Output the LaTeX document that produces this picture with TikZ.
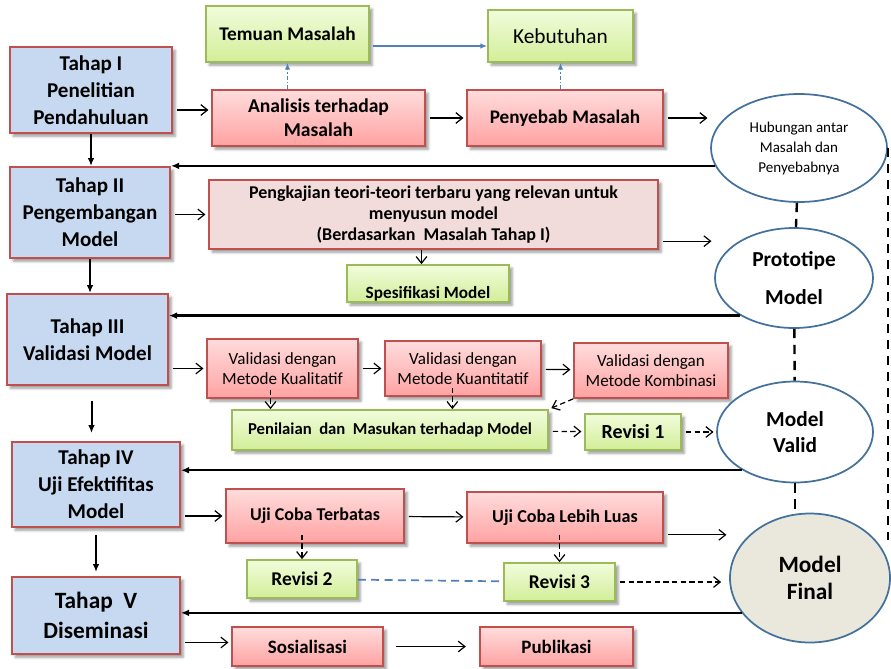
\documentclass[tikz,border=0pt]{standalone}
\usepackage{fontspec}
\setmainfont{Carlito}
\usepackage{tikz}
\usetikzlibrary{arrows.meta,shapes.geometric,shadows.blur}
\definecolor{stagefill}{HTML}{C6D9F1}
\definecolor{boxred}{HTML}{C0504D}
\definecolor{redtop}{HTML}{FFDCDC}
\definecolor{redbot}{HTML}{FFA2A2}
\definecolor{pinkfill}{HTML}{F2DCDB}
\definecolor{greentop}{HTML}{F2FCDC}
\definecolor{greenbot}{HTML}{D2EE98}
\definecolor{greenline}{HTML}{9BBB59}
\definecolor{ovalline}{HTML}{41719C}
\definecolor{finalfill}{HTML}{EAE8DC}
\definecolor{linkblue}{HTML}{4F81BD}

\begin{document}
\begin{tikzpicture}[
    x=0.75pt, y=-0.75pt,
    size/.style 2 args={minimum width=#1, minimum height=#2},
    stage/.style={draw=boxred, line width=1.5pt, fill=stagefill, inner sep=0pt, align=center,
                  blur shadow={shadow blur steps=4}, font=\fontsize{15.8}{20.3}\selectfont\bfseries},
    redbox/.style={draw=boxred, line width=1.3pt, top color=redtop, bottom color=redbot,
                   inner sep=0pt, align=center, blur shadow={shadow blur steps=4}},
    pinkbox/.style={draw=boxred, line width=1.3pt, fill=pinkfill, inner sep=0pt, align=center,
                    blur shadow={shadow blur steps=4}},
    greenbox/.style={draw=greenline, line width=1.3pt, top color=greentop, bottom color=greenbot,
                     inner sep=0pt, align=center, blur shadow={shadow blur steps=4}},
    oval/.style={ellipse, draw=ovalline, line width=1.3pt, fill=white, inner sep=0pt, align=center},
    fwd/.style={-{Straight Barb[length=5pt,width=8pt]}, line width=0.9pt, shorten <=3pt, shorten >=2pt},
    dfwd/.style={fwd, dash pattern=on 4pt off 2.5pt},
    ret/.style={-{Latex[length=6pt,width=5pt]}, line width=1.8pt},
    down/.style={-{Latex[length=6pt,width=5pt]}, line width=1.5pt},
    bluearr/.style={-{Latex[length=5pt,width=4pt]}, draw=linkblue, line width=0.9pt},
    bluedot/.style={bluearr, line width=1.1pt, dash pattern=on 3pt off 1.5pt on 1pt off 1.5pt},
    bluedash/.style={draw=linkblue, line width=1.3pt, dash pattern=on 6pt off 4pt},
    link/.style={line width=1.8pt, dash pattern=on 7pt off 5pt}
  ]
  \useasboundingbox (0,0) rectangle (891,668);

  %%%%%%%%%%%%% Left column: stages %%%%%%%%%%%%%
  \node[stage, size={121.5pt}{64.5pt}] at (91,90) (t1) {Tahap I\\Penelitian\\Pendahuluan};
  \node[stage, size={120pt}{68.25pt}] at (90,212.5) (t2) {Tahap II\\Pengembangan\\Model};
  \node[stage, size={120.75pt}{68.25pt}] at (87.5,339.5) (t3) {Tahap III\\Validasi Model};
  \node[stage, size={126pt}{63.75pt}] at (96,484.5) (t4) {Tahap IV\\Uji Efektifitas\\Model};
  \node[stage, size={126pt}{57.75pt}, font=\fontsize{17.5}{22}\selectfont\bfseries] at (96,615.5) (t5) {Tahap\ \ V\\Diseminasi};

  %%%%%%%%%%%%% Row 1: problem analysis %%%%%%%%%%%%%
  \node[greenbox, size={122.25pt}{42pt}, font=\fontsize{14.5}{17}\selectfont\bfseries] at (287.5,34) (temuan) {Temuan Masalah};
  \node[greenbox, size={108.75pt}{39pt}, font=\fontsize{16}{19}\selectfont] at (560.5,36) (butuh) {Kebutuhan};
  \node[redbox, size={159.75pt}{42pt}, font=\fontsize{14.7}{18}\selectfont\bfseries] at (318.5,118) (analisis) {Analisis terhadap\\Masalah};
  \node[redbox, size={147pt}{42pt}, font=\fontsize{14.4}{18}\selectfont\bfseries] at (565,118) (sebab) {Penyebab Masalah};
  \node[oval, size={132pt}{81pt}, font=\fontsize{11.3}{15}\selectfont] at (799,148) (hub) {Hubungan antar\\Masalah dan\\Penyebabnya};

  %%%%%%%%%%%%% Row 2: model development %%%%%%%%%%%%%
  \node[pinkbox, size={336.75pt}{51.75pt}, font=\fontsize{13.5}{16}\selectfont\bfseries] at (433.5,214.5) (kaji) {Pengkajian teori-teori terbaru yang relevan untuk\\menyusun model\\(Berdasarkan\ \ Masalah Tahap I)};
  \node[greenbox, size={121.5pt}{27.75pt}, font=\fontsize{12.9}{14.5}\selectfont\bfseries] at (428,283.5) (spek) {\raisebox{-11pt}[0pt][0pt]{Spesifikasi Model}};
  \node[oval, size={118.5pt}{75pt}, font=\fontsize{16}{29}\selectfont\bfseries] at (794,278) (proto) {Prototipe\\Model};

  %%%%%%%%%%%%% Row 3: validation %%%%%%%%%%%%%
  \node[redbox, size={113.25pt}{44.25pt}, font=\fontsize{12.8}{15.5}\selectfont] at (282.5,368.5) (kual) {Validasi dengan\\Metode Kualitatif};
  \node[redbox, size={117pt}{41.25pt}, font=\fontsize{12.8}{15.5}\selectfont] at (463,368.5) (kuan) {Validasi dengan\\Metode Kuantitatif};
  \node[redbox, size={115.5pt}{41.25pt}, font=\fontsize{12.8}{15.5}\selectfont] at (651,370.5) (komb) {Validasi dengan\\Metode Kombinasi};
  \node[greenbox, size={237pt}{30pt}, font=\fontsize{12.5}{15}\selectfont\bfseries] at (390,430) (nilai) {Penilaian\ \ dan\ \ Masukan terhadap Model};
  \node[greenbox, size={72pt}{27pt}, font=\fontsize{15}{17}\selectfont\bfseries] at (633,432) (rev1) {Revisi 1};
  \node[oval, size={117pt}{75.75pt}, font=\fontsize{16}{20}\selectfont\bfseries] at (795,432) (valid) {Model\\Valid};

  %%%%%%%%%%%%% Row 4: effectiveness trials %%%%%%%%%%%%%
  \node[redbox, size={133.5pt}{40.5pt}, font=\fontsize{13.5}{16}\selectfont\bfseries] at (315,516) (terbatas) {Uji Coba Terbatas};
  \node[redbox, size={147pt}{38.25pt}, font=\fontsize{13.6}{16}\selectfont\bfseries] at (565,517.5) (luas) {Uji Coba Lebih Luas};
  \node[greenbox, size={82.5pt}{28.5pt}, font=\fontsize{14.6}{16}\selectfont\bfseries] at (302,579) (rev2) {Revisi\ 2};
  \node[greenbox, size={83.25pt}{28.5pt}, font=\fontsize{14.6}{16}\selectfont\bfseries] at (559.5,582) (rev3) {Revisi\ 3};
  \node[oval, fill=finalfill, size={120pt}{96.75pt}, font=\fontsize{17.5}{20.5}\selectfont\bfseries] at (810,578) (final) {Model\\Final};

  %%%%%%%%%%%%% Row 5: dissemination %%%%%%%%%%%%%
  \node[redbox, size={113.25pt}{29.25pt}, font=\fontsize{14.2}{16}\selectfont\bfseries] at (307.5,646.5) (sosial) {Sosialisasi};
  \node[redbox, size={114.75pt}{29.25pt}, font=\fontsize{14.2}{16}\selectfont\bfseries] at (556.5,646.5) (publik) {Publikasi};

  %%%%%%%%%%%%% Stage to stage %%%%%%%%%%%%%
  \draw[down] (t1.south) -- (t1.south |- t2.north);
  \draw[down] (t2.south) -- (t2.south |- t3.north);
  \draw[down, shorten <=11pt, shorten >=6pt] ([xshift=3pt]t3.south) -- ([xshift=3pt]t3.south |- t4.north);
  \draw[down, shorten <=5pt, shorten >=3pt] (t4) -- (t5);

  %%%%%%%%%%%%% Forward flow %%%%%%%%%%%%%
  \draw[fwd] ([yshift=6pt]t1.east |- analisis.west) -- ([yshift=6pt]analisis.west);
  \draw[fwd] (analisis) -- (sebab);
  \draw[fwd] (sebab.east) -- (sebab.east -| hub.west);
  \draw[bluearr, shorten <=2pt] ([yshift=-9pt]temuan.east) -- ([yshift=-9pt]temuan.east -| butuh.west);
  \draw[bluedot] (analisis.north -| temuan) -- (temuan.south);
  \draw[bluedot] (sebab.north -| butuh) -- (butuh.south);

  \draw[fwd] (t2.east |- kaji.west) -- (kaji.west);
  \draw[fwd] ([yshift=-20pt]kaji.east) -- ([yshift=-20pt]kaji.east -| proto.west);
  \draw[fwd, shorten <=0pt, shorten >=0pt] ([xshift=-9pt]kaji.south) -- ([xshift=-9pt]kaji.south |- spek.north);

  \draw[fwd] (t3.east |- kual.west) -- (kual.west);
  \draw[fwd] (kual) -- (kuan);
  \draw[fwd] (kuan) -- (komb);
  \draw[dfwd, shorten <=-7pt, shorten >=0pt] ([xshift=-9pt]kual.south) -- ([xshift=-9pt]kual.south |- nilai.north);
  \draw[dfwd, shorten <=-7pt, shorten >=0pt] ([xshift=-8pt]kuan.south) -- ([xshift=-8pt]kuan.south |- nilai.north);
  \draw[dfwd, shorten <=0pt] (komb.south west) -- (nilai.north east);
  \draw[dfwd] (nilai) -- (rev1);
  \draw[dfwd] (rev1) -- (valid);

  \draw[fwd] (t4.east |- terbatas.west) -- (terbatas.west);
  \draw[fwd] (terbatas) -- (luas);
  \draw[fwd] ([yshift=-13pt]luas.east) -- ([yshift=-13pt]luas.east -| final.west);
  \draw[dfwd, shorten <=-7pt, shorten >=0pt] (terbatas.south -| rev2) -- (rev2.north);
  \draw[dfwd, shorten <=-7pt, shorten >=0pt] (luas.south -| rev3) -- (rev3.north);
  \draw[bluedash] (rev2) -- (rev3);
  \draw[dfwd, shorten >=6pt] (rev3.east) -- (rev3.east -| final.west);

  \draw[fwd] ([yshift=3pt]t5.east |- sosial.west) -- ([yshift=3pt]sosial.west);
  \draw[fwd, shorten <=9pt, shorten >=10pt] (sosial) -- (publik);

  %%%%%%%%%%%%% Results back to the next stage %%%%%%%%%%%%%
  \draw[ret] (hub.192) -- (hub.192 -| t2.east);
  \draw[ret] (proto.215) -- (proto.215 -| t3.east);
  \draw[ret] (valid.216) -- (valid.216 -| t4.east);
  \draw[ret] (final.207) -- (final.207 -| t5.east);

  %%%%%%%%%%%%% Links between results %%%%%%%%%%%%%
  \draw[link] (hub) -- (proto);
  \draw[link] (proto) -- (valid);
  \draw[link] (valid.south) -- (valid.south |- final.north);
  \draw[link] (hub.east) -- (hub.east |- final.30);

\end{tikzpicture}
\end{document}
